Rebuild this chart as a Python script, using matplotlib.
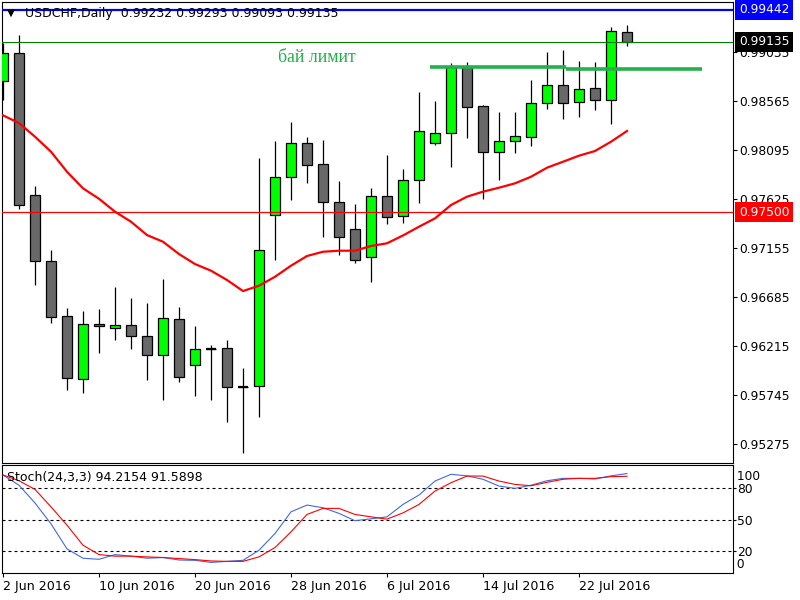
import matplotlib
matplotlib.use('Agg')
import matplotlib.pyplot as plt
from matplotlib.transforms import blended_transform_factory
import numpy as np

plt.rcParams['font.family'] = ['DejaVu Sans']

dates = ['2 Jun 2016', '3 Jun 2016', '6 Jun 2016', '7 Jun 2016', '8 Jun 2016', '9 Jun 2016',
         '10 Jun 2016', '13 Jun 2016', '14 Jun 2016', '15 Jun 2016', '16 Jun 2016', '17 Jun 2016',
         '20 Jun 2016', '21 Jun 2016', '22 Jun 2016', '23 Jun 2016', '24 Jun 2016', '27 Jun 2016',
         '28 Jun 2016', '29 Jun 2016', '30 Jun 2016', '1 Jul 2016', '4 Jul 2016', '5 Jul 2016',
         '6 Jul 2016', '7 Jul 2016', '8 Jul 2016', '11 Jul 2016', '12 Jul 2016', '13 Jul 2016',
         '14 Jul 2016', '15 Jul 2016', '18 Jul 2016', '19 Jul 2016', '20 Jul 2016', '21 Jul 2016',
         '22 Jul 2016', '25 Jul 2016', '26 Jul 2016', '27 Jul 2016']

opens = [0.98759, 0.99028, 0.97666, 0.97033, 0.96506, 0.95901, 0.96429, 0.96390, 0.96419, 0.96314,
         0.96132, 0.96477, 0.96036, 0.96189, 0.96199, 0.95825, 0.95834, 0.97474, 0.97839, 0.98165,
         0.97963, 0.97599, 0.97340, 0.97071, 0.97656, 0.97465, 0.97810, 0.98165, 0.98260, 0.98893,
         0.98519, 0.98078, 0.98184, 0.98222, 0.98548, 0.98721, 0.98558, 0.98692, 0.98577, 0.99232]
highs = [0.99124, 0.99200, 0.97752, 0.97138, 0.96582, 0.96553, 0.96573, 0.96784, 0.96678, 0.96630,
         0.96860, 0.96592, 0.96410, 0.96227, 0.96275, 0.96007, 0.98021, 0.98184, 0.98366, 0.98222,
         0.98193, 0.97800, 0.97580, 0.97733, 0.98050, 0.97915, 0.98654, 0.98567, 0.98932, 0.98941,
         0.98529, 0.98462, 0.98462, 0.98769, 0.99037, 0.99056, 0.98951, 0.98941, 0.99277, 0.99293]
lows = [0.98577, 0.97532, 0.96803, 0.96438, 0.95796, 0.95767, 0.96151, 0.96275, 0.96189, 0.95892,
        0.95700, 0.95873, 0.95738, 0.95700, 0.95489, 0.95192, 0.95537, 0.97043, 0.97618, 0.97781,
        0.97263, 0.97091, 0.97014, 0.96832, 0.97388, 0.97397, 0.97589, 0.98145, 0.97934, 0.98213,
        0.97628, 0.97810, 0.98069, 0.98136, 0.98491, 0.98395, 0.98414, 0.98481, 0.98347, 0.99093]
closes = [0.99028, 0.97570, 0.97033, 0.96496, 0.95911, 0.96429, 0.96410, 0.96419, 0.96314, 0.96132,
          0.96486, 0.95921, 0.96189, 0.96189, 0.95825, 0.95825, 0.97138, 0.97839, 0.98165, 0.97954,
          0.97599, 0.97263, 0.97043, 0.97656, 0.97455, 0.97810, 0.98280, 0.98260, 0.98893, 0.98510,
          0.98078, 0.98184, 0.98232, 0.98548, 0.98721, 0.98548, 0.98682, 0.98577, 0.99239, 0.99135]

ma = [0.98430, 0.98356, 0.98225, 0.98081, 0.97889, 0.97730, 0.97630, 0.97506, 0.97410, 0.97282,
      0.97218, 0.97100, 0.97004, 0.96940, 0.96851, 0.96745, 0.96796, 0.96882, 0.96988, 0.97081,
      0.97122, 0.97132, 0.97132, 0.97177, 0.97203, 0.97278, 0.97362, 0.97442, 0.97570, 0.97650,
      0.97698, 0.97736, 0.97778, 0.97841, 0.97928, 0.97985, 0.98043, 0.98088, 0.98177, 0.98280]

stoch_main = [92.8, 83, 66, 46, 22, 13, 12, 16.5, 15, 13, 13.7, 11.3, 11, 9, 10, 11, 20.7, 36.7,
              57.5, 64, 61.4, 56, 49, 50.8, 52.7, 64.6, 73.6, 87, 93.5, 92, 88.7, 82.2, 80, 83,
              87.3, 89.6, 89.6, 89, 92, 94.2]
stoch_signal = [92.8, 87.3, 79, 62.3, 44.7, 25.5, 16.5, 15, 15, 14.3, 13.7, 12.7, 11.7, 10.4, 10,
                10, 14.3, 23.3, 38.3, 55, 60.8, 60.8, 55, 52.7, 50.5, 56.5, 64.6, 77.4, 85.4, 91.8,
                91.8, 87, 83.8, 82.5, 85.8, 88.7, 89.6, 89.6, 91.2, 91.6]

price_ticks = [0.99035, 0.98565, 0.98095, 0.97625, 0.97155, 0.96685, 0.96215, 0.95745, 0.95275]
stoch_levels = [80, 50, 20]

blue_level = 0.99442
price_level = 0.99135
red_level = 0.97500
buy_limit_x = [[26.69, 35.19], [35.19, 43.69]]
buy_limit_y = [[0.98891, 0.98891], [0.98877, 0.98877]]
buy_text = 'бай лимит'
title = 'USDCHF,Daily  0.99232 0.99293 0.99093 0.99135'
stoch_title = 'Stoch(24,3,3) 94.2154 91.5898'

FS = 8.8
FS_T = 9.0
FS_D = 9.1
BULL = '#00FF00'
BEAR = '#696969'

fig = plt.figure(figsize=(8, 6), dpi=100)
fig.patch.set_facecolor('white')
ax = fig.add_axes([2/800, 137/600, 731/800, 461/600])
axs = fig.add_axes([2/800, 27/600, 731/800, 108/600])

x = np.arange(len(opens))
o = np.array(opens); c = np.array(closes); h = np.array(highs); l = np.array(lows)
cols = [BULL if cc > oo else BEAR for oo, cc in zip(o, c)]

for a in (ax, axs):
    a.set_xlim(-0.0625, 45.625)
    for s in a.spines.values():
        s.set_color('black')
        s.set_linewidth(0.8)
ax.set_ylim(0.95096, 0.99517)
axs.set_ylim(-1.15, 102.4)

ax.vlines(x, l, h, color='black', lw=0.9, zorder=2)
ax.bar(x, np.abs(c - o), bottom=np.minimum(o, c), width=0.625, color=cols,
       edgecolor='black', linewidth=0.9, zorder=3)
doji = [i for i in range(len(o)) if o[i] == c[i]]
ax.hlines(o[doji], x[doji] - 0.33, x[doji] + 0.33, color='black', lw=1.6, zorder=3)
ax.plot(x, ma, color='red', lw=1.6, zorder=4)

ax.axhline(blue_level, color='#0000FF', lw=1.6, zorder=5)
ax.axhline(price_level, color='#008000', lw=0.8, zorder=5)
ax.axhline(red_level, color='red', lw=0.9, zorder=5)
for xs, ys in zip(buy_limit_x, buy_limit_y):
    ax.plot(xs, ys, color='#22B14C', lw=2.6, zorder=5, solid_capstyle='butt')
ax.text(17.2, 0.98980, buy_text, color='#22B14C', fontsize=12.8,
        family=['Liberation Serif', 'DejaVu Serif'], ha='left', va='center', zorder=6)

ax.set_xticks([])
ax.yaxis.tick_right()
ax.set_yticks(price_ticks)
ax.set_yticklabels([f'{v:.5f}' for v in price_ticks])
ax.tick_params(axis='y', direction='out', length=3, width=0.8, pad=1.5, labelsize=FS)

tr = blended_transform_factory(ax.transAxes, ax.transData)
for val, bg in [(blue_level, '#0000FF'), (price_level, 'black'), (red_level, '#FF0000')]:
    ax.annotate(f'{val:.5f}', xy=(1, val), xycoords=tr, xytext=(4.3, 0),
                textcoords='offset points', va='center', ha='left', color='white',
                fontsize=FS, annotation_clip=False, zorder=10,
                bbox=dict(boxstyle='square,pad=0.3', fc=bg, ec='none'))

fig.text(7/800, 1 - 13/600, '▼', fontsize=7.5, va='center', ha='left')
fig.text(25/800, 1 - 14/600, title, fontsize=FS_T, va='center', ha='left')

# Stochastic panel
for lv in stoch_levels:
    axs.axhline(lv, color='black', lw=0.8, ls=(0, (2.7, 2.7)), zorder=1)
axs.plot(x, stoch_main, color='#4169E1', lw=0.8, zorder=2)
axs.plot(x, stoch_signal, color='red', lw=0.8, zorder=3)
axs.yaxis.tick_right()
axs.set_yticks(stoch_levels)
axs.set_yticklabels([str(v) for v in stoch_levels])
axs.tick_params(axis='y', direction='out', length=2, width=0.8, pad=1, labelsize=FS)
trs = blended_transform_factory(axs.transAxes, axs.transData)
axs.text(1.0, 91.8, ' 100', transform=trs, fontsize=FS, va='center', ha='left')
axs.text(1.0, 6.9, ' 0', transform=trs, fontsize=FS, va='center', ha='left')
axs.set_xticks(x[::6])
axs.set_xticklabels(dates[::6], ha='left')
axs.tick_params(axis='x', direction='out', length=3, width=0.8, pad=2, labelsize=FS_D)
fig.text(7/800, 1 - 478/600, stoch_title, fontsize=FS_T, va='center', ha='left')

fig.savefig('out.png', dpi=100, facecolor='white')
